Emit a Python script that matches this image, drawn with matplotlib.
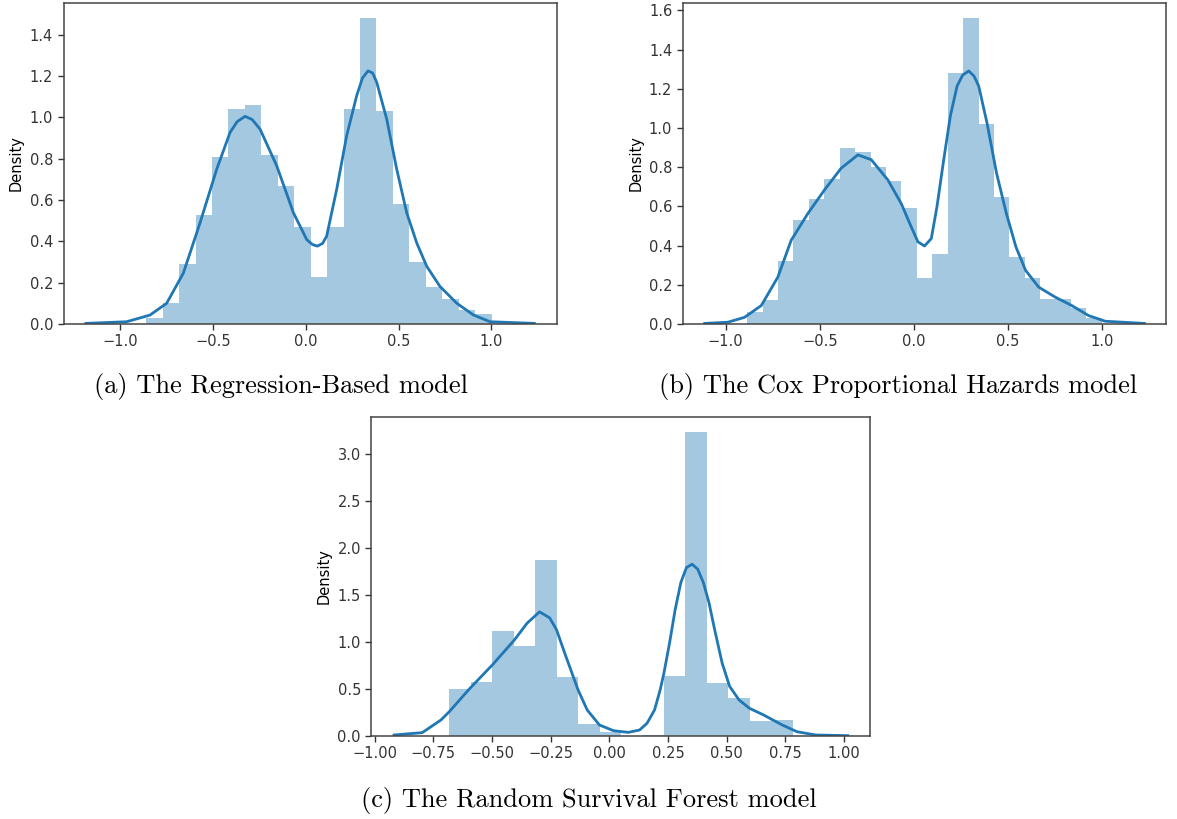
import numpy as np
import matplotlib
matplotlib.use('Agg')
import matplotlib.pyplot as plt

# Colores tipo seaborn distplot
azul = '#1f77b4'

# ---- (a) Regression-Based ----
a_inicio, a_ancho = -0.861, 0.0887
a_alturas = [0.03, 0.10, 0.29, 0.53, 0.81, 1.04, 1.06, 0.82, 0.67, 0.47, 0.226,
             0.47, 1.04, 1.48, 1.03, 0.58, 0.30, 0.18, 0.12, 0.07, 0.05]
a_kde_x = [-1.186, -0.967, -0.841, -0.751, -0.661, -0.571, -0.481, -0.409, -0.370,
           -0.328, -0.290, -0.247, -0.157, -0.067, 0.005, 0.035, 0.062, 0.090,
           0.112, 0.166, 0.220, 0.274, 0.305, 0.335, 0.360, 0.382, 0.436, 0.490,
           0.544, 0.598, 0.652, 0.723, 0.813, 0.903, 0.993, 1.232]
a_kde_y = [0.003, 0.011, 0.043, 0.10, 0.246, 0.489, 0.749, 0.927, 0.98,
           1.005, 0.99, 0.943, 0.765, 0.538, 0.408, 0.385, 0.377, 0.39,
           0.425, 0.651, 0.911, 1.105, 1.19, 1.225, 1.215, 1.170, 0.992, 0.749,
           0.538, 0.392, 0.279, 0.182, 0.101, 0.044, 0.011, 0.003]

# ---- (b) Cox Proportional Hazards ----
b_inicio, b_ancho = -0.886, 0.082
b_alturas = [0.06, 0.12, 0.32, 0.53, 0.64, 0.74, 0.90, 0.88, 0.80, 0.73, 0.59,
             0.235, 0.355, 1.28, 1.56, 1.02, 0.65, 0.34, 0.235, 0.13, 0.13, 0.08, 0.03]
b_kde_x = [-1.112, -0.989, -0.900, -0.811, -0.723, -0.652, -0.563, -0.475, -0.386,
           -0.297, -0.226, -0.138, -0.067, -0.014, 0.022, 0.057, 0.093, 0.123,
           0.159, 0.194, 0.230, 0.260, 0.292, 0.320, 0.345, 0.389, 0.440, 0.492,
           0.543, 0.594, 0.664, 0.752, 0.840, 0.929, 1.018, 1.226]
b_kde_y = [0.003, 0.009, 0.034, 0.094, 0.239, 0.427, 0.564, 0.684, 0.795,
           0.863, 0.838, 0.735, 0.615, 0.496, 0.419, 0.398, 0.436, 0.598,
           0.838, 1.06, 1.214, 1.27, 1.291, 1.265, 1.214, 1.026, 0.769, 0.564,
           0.393, 0.274, 0.188, 0.137, 0.094, 0.043, 0.014, 0.003]

# ---- (c) Random Survival Forest ----
c_inicio, c_ancho = -0.681, 0.0914
c_alturas = [0.50, 0.58, 1.12, 0.96, 1.87, 0.63, 0.13, 0.046, 0.0, 0.01,
             0.64, 3.24, 0.56, 0.41, 0.16, 0.17]
c_kde_x = [-0.917, -0.797, -0.717, -0.681, -0.597, -0.497, -0.403, -0.350, -0.297,
           -0.254, -0.225, -0.190, -0.133, -0.094, -0.042, 0.018, 0.081, 0.129,
           0.161, 0.193, 0.217, 0.233, 0.257, 0.281, 0.305, 0.329, 0.353, 0.377,
           0.401, 0.425, 0.449, 0.481, 0.513, 0.553, 0.597, 0.657, 0.737, 0.800,
           0.880, 1.016]
c_kde_y = [0.011, 0.036, 0.171, 0.261, 0.499, 0.760, 1.027, 1.202, 1.323,
           1.259, 1.134, 0.885, 0.492, 0.278, 0.118, 0.057, 0.039, 0.064,
           0.136, 0.278, 0.492, 0.671, 0.992, 1.349, 1.634, 1.795, 1.830, 1.777,
           1.634, 1.420, 1.134, 0.777, 0.528, 0.385, 0.296, 0.225, 0.118, 0.046,
           0.011, 0.004]

titulos = ['(a) The Regression-Based model',
           '(b) The Cox Proportional Hazards model',
           '(c) The Random Survival Forest model']

fig = plt.figure(figsize=(11.77, 8.19), dpi=100)

ax_a = fig.add_axes([0.054, 0.6044, 0.419, 0.392])
ax_b = fig.add_axes([0.5800, 0.6044, 0.4110, 0.392])
ax_c = fig.add_axes([0.3155, 0.1013, 0.4240, 0.390])


def dibujar(ax, inicio, ancho, alturas, kx, ky):
    bordes = inicio + ancho * np.arange(len(alturas))
    ax.bar(bordes, alturas, width=ancho, align='edge', color=azul, alpha=0.4,
           linewidth=0)
    ax.plot(kx, ky, color=azul, linewidth=2, solid_joinstyle='round')
    ax.set_ylabel('Density', fontsize=10.5)
    ax.tick_params(labelsize=10.5, width=1, length=4, colors='#333333')
    for s in ax.spines.values():
        s.set_color('#444444')
        s.set_linewidth(1.1)


dibujar(ax_a, a_inicio, a_ancho, a_alturas, a_kde_x, a_kde_y)
dibujar(ax_b, b_inicio, b_ancho, b_alturas, b_kde_x, b_kde_y)
dibujar(ax_c, c_inicio, c_ancho, c_alturas, c_kde_x, c_kde_y)

ax_a.set_xticks([-1.0, -0.5, 0.0, 0.5, 1.0])
ax_b.set_xticks([-1.0, -0.5, 0.0, 0.5, 1.0])
ax_c.set_xticks([-1.0, -0.75, -0.5, -0.25, 0.0, 0.25, 0.5, 0.75, 1.0])
ax_c.set_xticklabels(['\u22121.00', '\u22120.75', '\u22120.50', '\u22120.25', '0.00',
                      '0.25', '0.50', '0.75', '1.00'])

# Subtitulos en estilo LaTeX
fig.text(0.239, 0.528, titulos[0], ha='center', va='center', fontsize=19, family='cmr10')
fig.text(0.763, 0.528, titulos[1], ha='center', va='center', fontsize=19, family='cmr10')
fig.text(0.5005, 0.023, titulos[2], ha='center', va='center', fontsize=19, family='cmr10')

fig.savefig('out.png', dpi=100)
